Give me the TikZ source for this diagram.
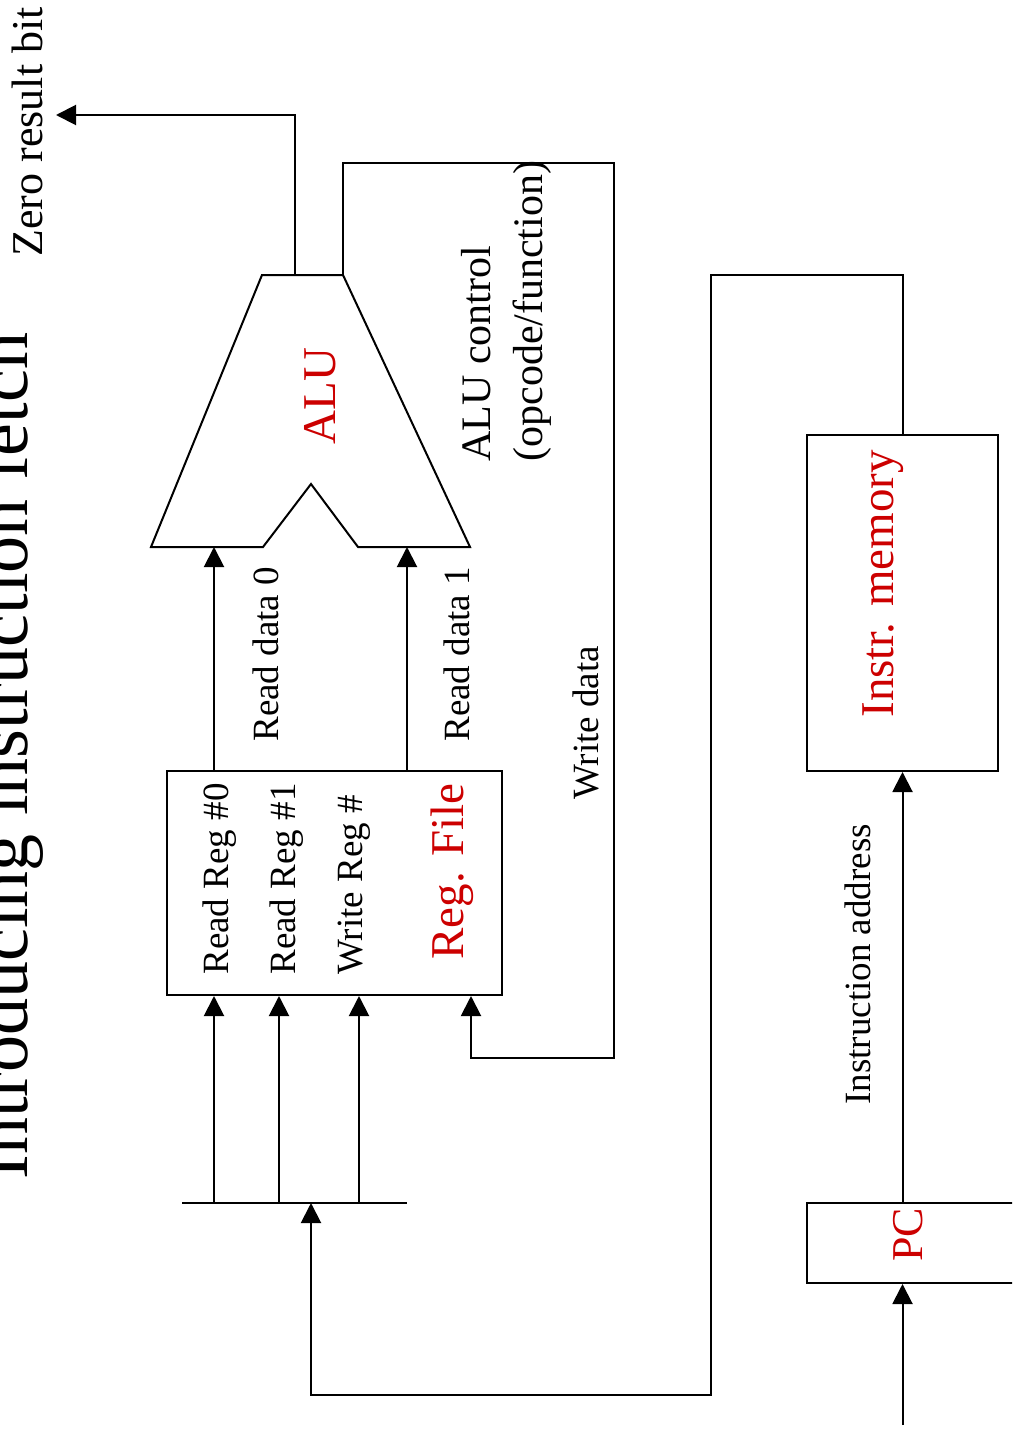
\documentclass[tikz,border=0pt]{standalone}
\usepackage{fontspec}
\setmainfont{Liberation Serif}
\usetikzlibrary{arrows.meta}
\definecolor{unitred}{RGB}{204,0,0}
\tikzstyle{block}=[draw,line width=1pt,inner sep=0pt]
\tikzstyle{wire}=[draw,line width=1pt]
\tikzstyle{edge}=[draw,line width=1pt,-{Triangle[length=10pt,width=10pt]}]
\tikzstyle{lbl}=[rotate=90,inner sep=0pt,anchor=base west,font=\fontsize{18.5}{22}\selectfont]
\tikzstyle{unitname}=[rotate=90,inner sep=0pt,anchor=base west,text=unitred,font=\fontsize{23.5}{28}\selectfont]

\begin{document}
\begin{tikzpicture}[x=0.5pt,y=-0.5pt]
      \useasboundingbox (0,0) rectangle (1012,1439);
      \clip (0,0) rectangle (1012,1439);
      \node[lbl,font=\fontsize{37}{44}\selectfont] (title) at (27,1180) {Introducing instruction fetch};
      % units
      \node[block,minimum width=167.5pt,minimum height=112pt] (regfile) at (334.5,883) {};
      \node[block,minimum width=95.5pt,minimum height=168pt] (imem) at (902.5,603) {};
      \node[block,minimum width=146.5pt,minimum height=40pt] (pc) at (953.5,1243) {};
      \draw[wire] (262,275) -- (343,275) -- (470,547) -- (358,547) -- (311,484)
            -- (263,547) -- (151,547) -- cycle;
      \coordinate (aluin0) at (214,547);
      \coordinate (aluin1) at (407,547);
      \coordinate (aluzero) at (295,275);
      \coordinate (aluctl) at (343,275);
      \coordinate (zeroout) at (56,115);
      \coordinate (ctltop) at (614,163);
      \coordinate (ctlbot) at (614,1058);
      \coordinate (wd) at (471,1058);
      \coordinate (busl) at (182,1203);
      \coordinate (busr) at (407,1203);
      \coordinate (busin) at (311,1203);
      \coordinate (ltop) at (711,275);
      \coordinate (lbot) at (711,1395);
      \coordinate (pcin) at (902.5,1425);
      % labels
      \node[lbl] (rr0) at (228,975) {Read Reg \#0};
      \node[lbl] (rr1) at (295.5,975) {Read Reg \#1};
      \node[lbl] (wr) at (362,975) {Write Reg \#};
      \node[unitname] (rflbl) at (463,960) {Reg. File};
      \node[lbl] (rd0) at (278,742) {Read data 0};
      \node[lbl] (rd1) at (469,742) {Read data 1};
      \node[lbl] (wdata) at (598,800) {Write data};
      \node[unitname] (alulbl) at (335,445) {ALU};
      \node[lbl,anchor=west,align=left,font=\fontsize{21}{26}\selectfont] (ctllbl) at (506,462) {ALU control\\(opcode/function)};
      \node[unitname] (imemlbl) at (893,718) {Instr. memory};
      \node[lbl] (addrlbl) at (870,1105) {Instruction address};
      \node[unitname,font=\fontsize{22}{26}\selectfont] (pclbl) at (922,1262) {PC};
      \node[lbl,font=\fontsize{22}{26}\selectfont] (zerolbl) at (42,257) {Zero result bit};
      % connections
      \draw[wire] (busl) -- (busr);
      \foreach \x/\t in {214/tap0,279/tap1,359/tap2} {
        \coordinate (\t) at (\x,1203);
        \draw[edge] (\t) -- (\t |- regfile.south);
      }
      \draw[edge] (aluin0 |- regfile.north) -- (aluin0);
      \draw[edge] (aluin1 |- regfile.north) -- (aluin1);
      \draw[edge] (aluzero) |- (zeroout);
      \draw[edge] (aluctl) |- (ctltop) -- (ctlbot) -- (wd) -- (wd |- regfile.south);
      \draw[edge] (imem.north) |- (ltop) -- (lbot) -| (busin);
      \draw[edge] (pcin) -- (pcin |- pc.south);
      \draw[edge] (imem.south |- pc.north) -- (imem.south);
\end{tikzpicture}
\end{document}
